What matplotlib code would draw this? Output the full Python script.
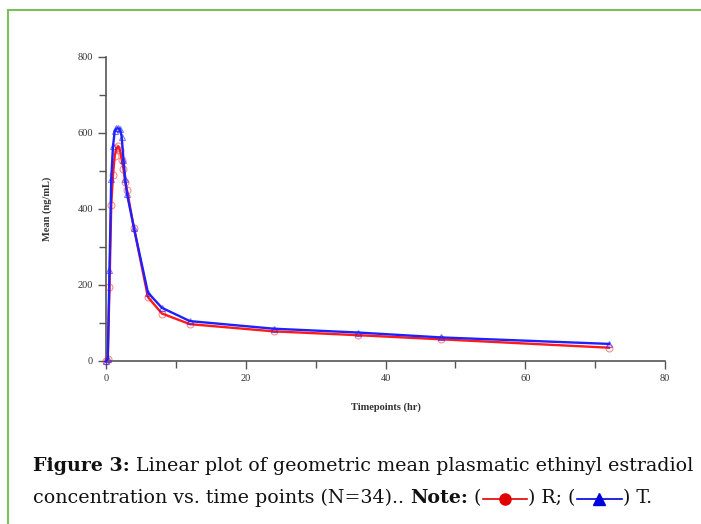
import matplotlib
matplotlib.use("Agg")
import matplotlib.pyplot as plt
from matplotlib.lines import Line2D
from matplotlib.offsetbox import TextArea, DrawingArea, HPacker, AnchoredOffsetbox

# --- Data ---
time_r = [0, 0.25, 0.5, 0.75, 1, 1.25, 1.5, 1.75, 2, 2.25, 2.5, 2.75, 3, 4, 6, 8, 12, 24, 36, 48, 72]
mean_r = [0, 5, 195, 410, 490, 540, 560, 565, 555, 530, 505, 470, 450, 350, 168, 125, 97, 78, 68, 57, 35]
time_t = [0, 0.25, 0.5, 0.75, 1, 1.25, 1.5, 1.75, 2, 2.25, 2.5, 2.75, 3, 4, 6, 8, 12, 24, 36, 48, 72]
mean_t = [0, 5, 240, 480, 565, 605, 612, 612, 610, 590, 530, 480, 440, 350, 180, 140, 105, 85, 75, 62, 45]

X_TICKS = [0, 20, 40, 60, 80]
Y_TICKS = [0, 200, 400, 600, 800]

RED = "#ff1a1a"
BLUE = "#2020ff"
AXIS_GREY = "#555555"
GREEN = "#7cbf5a"

fig = plt.figure(figsize=(7.01, 5.24), dpi=100)
ax = fig.add_axes([106 / 701, 1 - 361 / 524, 559 / 701, 304 / 524])

# lines
ax.plot(time_r, mean_r, color=RED, lw=1.7, zorder=3, clip_on=False)
ax.plot(time_t, mean_t, color=BLUE, lw=1.7, zorder=4, clip_on=False)
# hollow, faded markers
ax.plot(time_r, mean_r, ls="none", marker="o", ms=5, mfc="none", mec=RED,
        mew=0.8, alpha=0.5, zorder=3, clip_on=False)
ax.plot(time_t, mean_t, ls="none", marker="^", ms=5, mfc="none", mec=BLUE,
        mew=0.8, alpha=0.6, zorder=4, clip_on=False)

ax.set_xlim(0, 80)
ax.set_ylim(0, 800)
ax.set_xticks(X_TICKS)
ax.set_yticks(Y_TICKS)
ax.set_xticks([10, 30, 50, 70], minor=True)
ax.set_yticks([100, 300, 500, 700], minor=True)

for side in ["top", "right"]:
    ax.spines[side].set_visible(False)
for side in ["left", "bottom"]:
    ax.spines[side].set_color(AXIS_GREY)
    ax.spines[side].set_linewidth(1.2)

ax.tick_params(which="both", direction="out", color=AXIS_GREY, width=1,
               labelsize=7.5, labelcolor="#333333")
ax.tick_params(which="major", length=6)
ax.tick_params(which="minor", length=5)
for lab in ax.get_xticklabels() + ax.get_yticklabels():
    lab.set_family("Liberation Serif")

ax.set_xlabel("Timepoints (hr)", family="Liberation Serif", fontsize=7.5,
              color="#333333", fontweight="bold", labelpad=14)
ax.set_ylabel("Mean (ng/mL)", family="Liberation Serif", fontsize=7.5,
              color="#333333", fontweight="bold", labelpad=18)

# green frame (left and top edges of the page box)
fig.add_artist(Line2D([8 / 701, 8 / 701], [0, 1 - 10 / 524], color=GREEN, lw=1.5,
                      transform=fig.transFigure))
fig.add_artist(Line2D([8 / 701, 1], [1 - 10 / 524, 1 - 10 / 524], color=GREEN, lw=1.5,
                      transform=fig.transFigure))

# --- caption ---
CAP_FONT = "DejaVu Serif"
CAP_SIZE = 13.7


def txt(s, bold=False):
    return TextArea(s, textprops=dict(family=CAP_FONT, size=CAP_SIZE,
                                      weight="bold" if bold else "normal",
                                      color="#111111"))


def key(color, marker):
    da = DrawingArea(34, 12, 0, 0)
    da.add_artist(Line2D([1, 33], [5, 5], color=color, lw=1.2))
    da.add_artist(Line2D([17], [5], marker=marker, color=color, ms=8, mec=color))
    return da


line1 = HPacker(children=[txt("Figure 3:", True),
                          txt(" Linear plot of geometric mean plasmatic ethinyl estradiol")],
                align="baseline", pad=0, sep=0)
line2 = HPacker(children=[txt("concentration vs. time points (N=34).. "),
                          txt("Note:", True), txt(" ("), key("#e00000", "o"),
                          txt(") R; ("), key("#0000dd", "^"), txt(") T.")],
                align="center", pad=0, sep=0)

for box, ypix in [(line1, 466), (line2, 498)]:
    ab = AnchoredOffsetbox(loc="center left", child=box, pad=0, borderpad=0, frameon=False,
                           bbox_to_anchor=(33 / 701, 1 - ypix / 524),
                           bbox_transform=fig.transFigure)
    fig.add_artist(ab)

fig.savefig("out.png", dpi=100)
